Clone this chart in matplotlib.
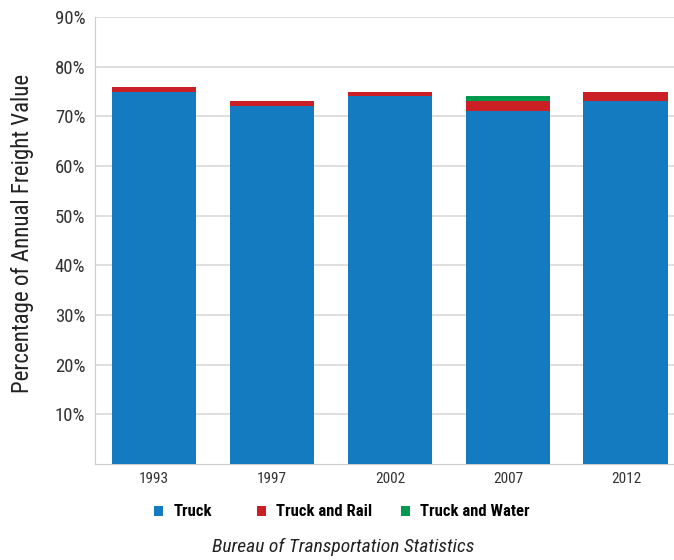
import matplotlib
matplotlib.use("Agg")
import matplotlib.pyplot as plt
from matplotlib.ticker import FuncFormatter

plt.rcParams['font.family'] = ['Roboto Condensed', 'DejaVu Sans']

# data (percent of annual freight value)
years = ['1993', '1997', '2002', '2007', '2012']
truck = [75, 72, 74, 71, 73]
truck_rail = [1, 1, 1, 2, 2]
truck_water = [0, 0, 0, 1, 0]

c_truck = '#147BC1'
c_rail = '#C91F25'
c_water = '#009A4E'

fig = plt.figure(figsize=(6.74, 5.6), dpi=100)
ax = fig.add_axes([95 / 674, 1 - 464 / 560, (674 - 95) / 674, (464 - 17) / 560])

x = range(len(years))
w = 0.72
b1 = ax.bar(x, truck, w, color=c_truck, label='Truck', zorder=3)
b2 = ax.bar(x, truck_rail, w, bottom=truck, color=c_rail, label='Truck and Rail', zorder=3)
bottom3 = [t + r for t, r in zip(truck, truck_rail)]
b3 = ax.bar(x, truck_water, w, bottom=bottom3, color=c_water, label='Truck and Water', zorder=3)

ax.set_xlim(-0.5, 4.407)
ax.set_ylim(0, 90)
ax.set_yticks(range(10, 91, 10))
ax.yaxis.set_major_formatter(FuncFormatter(lambda v, p: f'{int(v)}%'))
ax.set_xticks(list(x))
ax.set_xticklabels(years)
ax.tick_params(axis='y', length=0, labelsize=13.5, pad=7, colors='#333333')
ax.tick_params(axis='x', length=0, labelsize=11, pad=6, colors='#333333')
ax.grid(axis='y', color='#d9d9d9', linewidth=1.2, zorder=0)
for s in ['top', 'right']:
    ax.spines[s].set_visible(False)
for s in ['left', 'bottom']:
    ax.spines[s].set_color('#cccccc')
ax.set_ylabel('Percentage of Annual Freight Value', fontsize=16.5, color='#222222')
ax.yaxis.set_label_coords(-0.105, 0.516)

# legend entries placed one by one
for h, lab, xp in [(b1, 'Truck', 154), (b2, 'Truck and Rail', 257), (b3, 'Truck and Water', 401)]:
    fig.legend([h], [lab], loc='center left', bbox_to_anchor=(xp / 674, 1 - 512 / 560), frameon=False,
               handlelength=0.55, handleheight=0.55, handletextpad=0.6, borderpad=0, borderaxespad=0,
               prop={'weight': 'bold', 'size': 12})

fig.text(343 / 674, 1 - 547 / 560, 'Bureau of Transportation Statistics', ha='center', va='center',
         fontsize=14, style='italic', color='#222222')

fig.savefig('out.png', dpi=100)
